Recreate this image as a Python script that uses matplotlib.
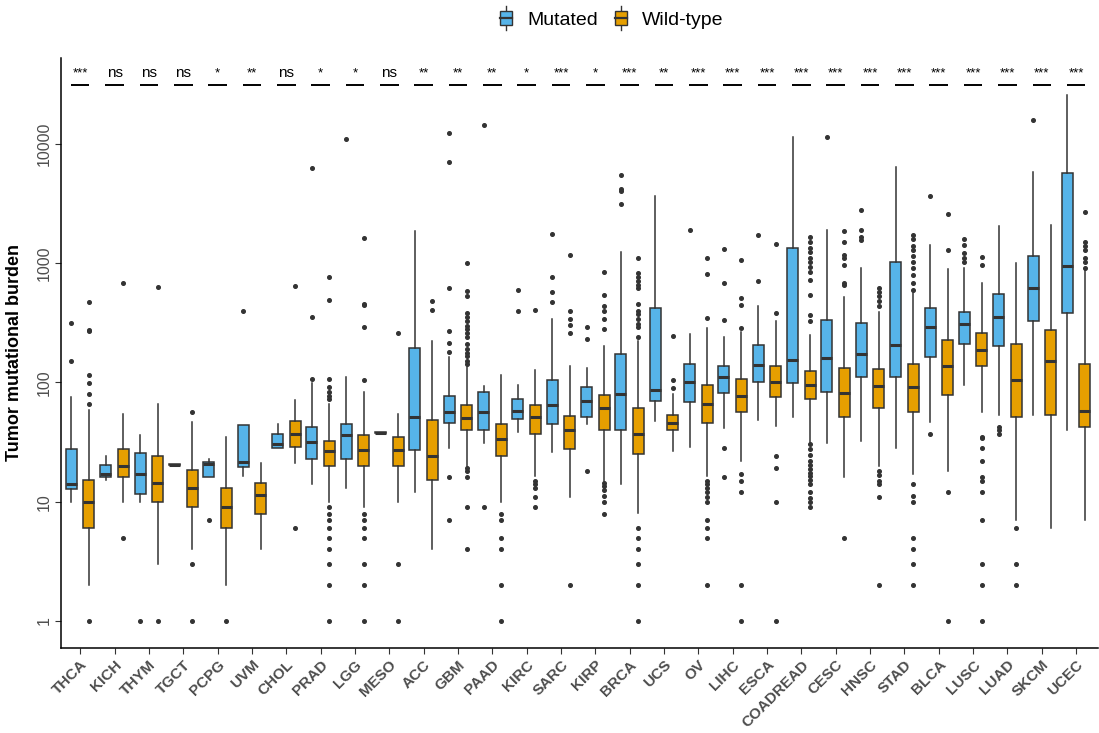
import matplotlib
matplotlib.use("Agg")
import matplotlib.pyplot as plt
from matplotlib.legend_handler import HandlerBase
from matplotlib.patches import Patch, Rectangle
from matplotlib.lines import Line2D

plt.rcParams['font.family'] = ['Liberation Sans', 'DejaVu Sans']

cats = ["THCA", "KICH", "THYM", "TGCT", "PCPG", "UVM", "CHOL", "PRAD", "LGG", "MESO",
        "ACC", "GBM", "PAAD", "KIRC", "SARC", "KIRP", "BRCA", "UCS", "OV", "LIHC",
        "ESCA", "COADREAD", "CESC", "HNSC", "STAD", "BLCA", "LUSC", "LUAD", "SKCM", "UCEC"]

sig = ["***", "ns", "ns", "ns", "*", "**", "ns", "*", "*", "ns",
       "**", "**", "**", "*", "***", "*", "***", "**", "***", "***",
       "***", "***", "***", "***", "***", "***", "***", "***", "***", "***"]

# Mutated: whisker low, q1, median, q3, whisker high
mut_lo = [10, 15.1, 10, 20.3, 16, 16.3, 28, 14, 13, 37.5,
          12.1, 28, 31, 38.7, 26, 45, 14, 47.7, 29, 41.7,
          48, 51, 31, 32, 28, 46.6, 95.5, 53, 53, 39.6]
mut_q1 = [12.9, 16, 11.5, 20.3, 16, 19.6, 28.2, 23, 23, 37.5,
          27, 46, 40, 49, 45, 51, 40, 70, 68, 82,
          100, 99, 83, 112, 110, 162, 210, 200, 325, 379]
mut_med = [14.1, 17.2, 17.2, 20.5, 20.6, 21.4, 30.6, 31.7, 36, 38,
           51, 56.5, 56, 58, 65, 70, 80, 86, 101, 112,
           140, 153, 159, 173, 205, 292, 306, 355, 613, 942]
mut_q3 = [27.4, 20.4, 25.6, 20.7, 21.4, 44, 36.8, 42, 45, 38.5,
          193, 77, 83, 73, 104, 91, 174, 417, 144, 136,
          205, 1345, 332, 315, 1030, 424, 387, 553, 1150, 5740]
mut_hi = [75.5, 24, 36, 20.7, 22.7, 44, 45, 98, 111, 38.5,
          1860, 162, 93, 96, 339, 131, 1250, 3680, 256, 238,
          433, 11430, 1890, 908, 6360, 1406, 908, 2050, 5820, 25700]
mut_out = [[150, 315], [], [1], [], [7], [393], [], [107, 352, 6300], [10900], [],
           [], [181, 213, 272, 613, 7000, 12400, 16, 7], [14500, 9], [400, 600],
           [469, 570, 760, 1756], [231, 292, 18], [3130, 4000, 4200, 5450], [], [1890],
           [332, 680, 1315, 28, 16], [711, 1730], [], [11430], [1550, 1667, 1900, 2780],
           [], [3625, 37], [1020, 1110, 1220, 1420, 1607], [36.9, 39.7, 42.6], [15950], []]

# Wild-type
wt_lo = [2, 10, 3, 4, 2, 4, 21, 10, 9, 10,
         4.05, 20, 10, 16.3, 11, 15, 8, 26.5, 16.3, 22,
         43, 31.7, 16, 20, 17, 18, 56.5, 7.06, 6, 7]
wt_q1 = [6, 16, 9.9, 9, 6, 7.9, 29, 20, 20, 20,
         15.1, 40, 24, 36.8, 27.8, 40, 25, 40, 46, 57,
         75.5, 73, 51, 61, 57, 79, 137, 51, 53, 42]
wt_med = [10, 20, 14.3, 13, 9, 11.3, 37.3, 26.4, 27, 27,
          24, 50, 33.6, 51, 39.6, 61, 37.3, 46, 66.5, 77,
          100, 96, 81, 94, 91, 137, 188, 104, 150, 58]
wt_q3 = [15.1, 27.8, 24, 18.6, 13, 14.3, 47.7, 32.5, 36, 35,
         48, 65, 45, 65, 52, 79, 61, 53, 95.5, 107,
         136, 125, 133, 130, 143, 226, 262, 211, 277, 143]
wt_hi = [59, 54, 66, 47, 34.7, 21, 71.6, 66, 83, 54,
         222, 134, 115, 126, 136, 202, 221, 80, 286, 266,
         325, 252, 521, 387, 561, 888, 675, 993, 2080, 888]
wt_out = [[66, 80, 99, 115, 268, 275, 469, 1], [675, 5], [627, 1], [57, 3, 1], [1], [],
          [645, 6], [72, 77, 83, 92, 107, 488, 765, 9, 7.9, 7, 6, 5, 4, 3, 2, 1],
          [105, 292, 445, 450, 1620, 7.9, 7, 6, 5, 3, 2, 1], [262, 3, 1],
          [405, 480],
          [143, 150, 166, 175, 192, 210, 238, 262, 280, 299, 327, 350, 382, 529, 582, 1006,
           19, 18, 16, 9, 4],
          [7.9, 7, 5, 4, 2, 1], [407, 15, 14, 13, 11, 9], [262, 303, 339, 393, 1180, 2],
          [282, 339, 393, 433, 541, 837, 14.3, 13.5, 12.6, 11.2, 10, 7.9],
          [240, 292, 310, 339, 375, 400, 455, 620, 660, 710, 760, 820, 1100, 6, 5, 4, 3, 2, 1],
          [89.5, 105, 243],
          [347, 806, 1100, 15, 14, 13, 12, 11, 10, 7, 6, 5, 2],
          [286, 446, 506, 1069, 17, 15, 12, 2, 1],
          [379, 1438, 24, 19, 10, 1],
          [327, 365, 541, 721, 837, 922, 1030, 1110, 1240, 1335, 1490, 1667,
           30.6, 27.4, 24.5, 22, 20.4, 18.9, 17.5, 16.3, 15.1, 14, 12.1, 10.8, 10, 9],
          [660, 675, 970, 1110, 1170, 1490, 1876, 5],
          [440, 480, 529, 570, 613, 18, 16.6, 15, 14, 11, 2],
          [592, 686, 794, 902, 1030, 1150, 1285, 1385, 1607, 1730, 14, 11.2, 10, 5, 4, 3, 2],
          [1285, 2560, 12, 1],
          [970, 1120, 34.6, 34, 28, 22, 16, 15, 12, 7, 3, 2, 1],
          [6, 3, 2], [], [910, 1030, 1110, 1285, 1385, 1490, 2700]]

BLUE = "#56B4E9"
ORANGE = "#E69F00"
EDGE = "#333333"


def make_stats(lo, q1, med, q3, hi, out):
    return [dict(whislo=a, q1=b, med=c, q3=d, whishi=e, fliers=f)
            for a, b, c, d, e, f in zip(lo, q1, med, q3, hi, out)]


class BoxHandler(HandlerBase):
    # small boxplot glyph for the legend keys
    def create_artists(self, legend, orig_handle, xdescent, ydescent, width, height, fontsize, trans):
        x0, y0 = -xdescent, -ydescent
        cx = x0 + width / 2
        bw = width * 0.85
        rect = Rectangle((cx - bw / 2, y0), bw, height,
                         facecolor=orig_handle.get_facecolor(), edgecolor=EDGE, lw=1.0, transform=trans)
        med = Line2D([cx - bw / 2, cx + bw / 2], [y0 + height / 2] * 2, color=EDGE, lw=1.6, transform=trans)
        w1 = Line2D([cx, cx], [y0 - height * 0.4, y0], color=EDGE, lw=1.0, transform=trans)
        w2 = Line2D([cx, cx], [y0 + height, y0 + height * 1.4], color=EDGE, lw=1.0, transform=trans)
        return [w1, w2, rect, med]


fig = plt.figure(figsize=(10.99, 7.33), dpi=100)
ax = fig.add_axes([0.0555, 0.116, 0.944, 0.805])

pos = list(range(len(cats)))
common = dict(widths=0.32, patch_artist=True, showcaps=False,
              boxprops=dict(edgecolor=EDGE, linewidth=1.1),
              medianprops=dict(color=EDGE, linewidth=2.2),
              whiskerprops=dict(color=EDGE, linewidth=1.1),
              flierprops=dict(marker="o", markerfacecolor=EDGE, markeredgecolor=EDGE,
                              markersize=2.6, linestyle="none"))

b1 = ax.bxp(make_stats(mut_lo, mut_q1, mut_med, mut_q3, mut_hi, mut_out),
            positions=[p - 0.255 for p in pos], **common)
b2 = ax.bxp(make_stats(wt_lo, wt_q1, wt_med, wt_q3, wt_hi, wt_out),
            positions=[p + 0.255 for p in pos], **common)
for box in b1["boxes"]:
    box.set_facecolor(BLUE)
for box in b2["boxes"]:
    box.set_facecolor(ORANGE)

# significance bars
for p, s in zip(pos, sig):
    ax.plot([p - 0.27, p + 0.27], [31000, 31000], color="black", lw=1.4, solid_capstyle="butt")
    ax.text(p, 34500, s, ha="center", va="bottom", fontsize=11 if s == "ns" else 9.5)

ax.set_yscale("log")
ax.set_ylim(10 ** -0.226, 10 ** 4.72)
ax.set_xlim(-0.56, 29.65)
ax.set_yticks([1, 10, 100, 1000, 10000])
ax.set_yticklabels(["1", "10", "100", "1000", "10000"], rotation=90, va="center")
ax.minorticks_off()
ax.set_xticks(pos)
ax.set_xticklabels(cats, rotation=45, ha="right", rotation_mode="anchor",
                   fontsize=11, fontweight="bold", color="#4D4D4D")
ax.tick_params(axis="y", labelsize=11.5, labelcolor="#4D4D4D", color="#333333", length=4, pad=3)
ax.tick_params(axis="x", color="#333333", length=4, pad=3)
ax.set_ylabel("Tumor mutational burden", fontsize=13, fontweight="bold")
ax.yaxis.set_label_coords(-0.0366, 0.5)
for side in ["top", "right"]:
    ax.spines[side].set_visible(False)
for side in ["left", "bottom"]:
    ax.spines[side].set_linewidth(1.1)

handles = [Patch(facecolor=BLUE), Patch(facecolor=ORANGE)]
fig.legend(handles, ["Mutated", "Wild-type"], loc="center", bbox_to_anchor=(0.556, 0.973),
           ncol=2, frameon=False, fontsize=14, handlelength=0.75, handleheight=0.7,
           handletextpad=0.7, columnspacing=0.8,
           handler_map={Patch: BoxHandler()})

fig.savefig("out.png", dpi=100)
